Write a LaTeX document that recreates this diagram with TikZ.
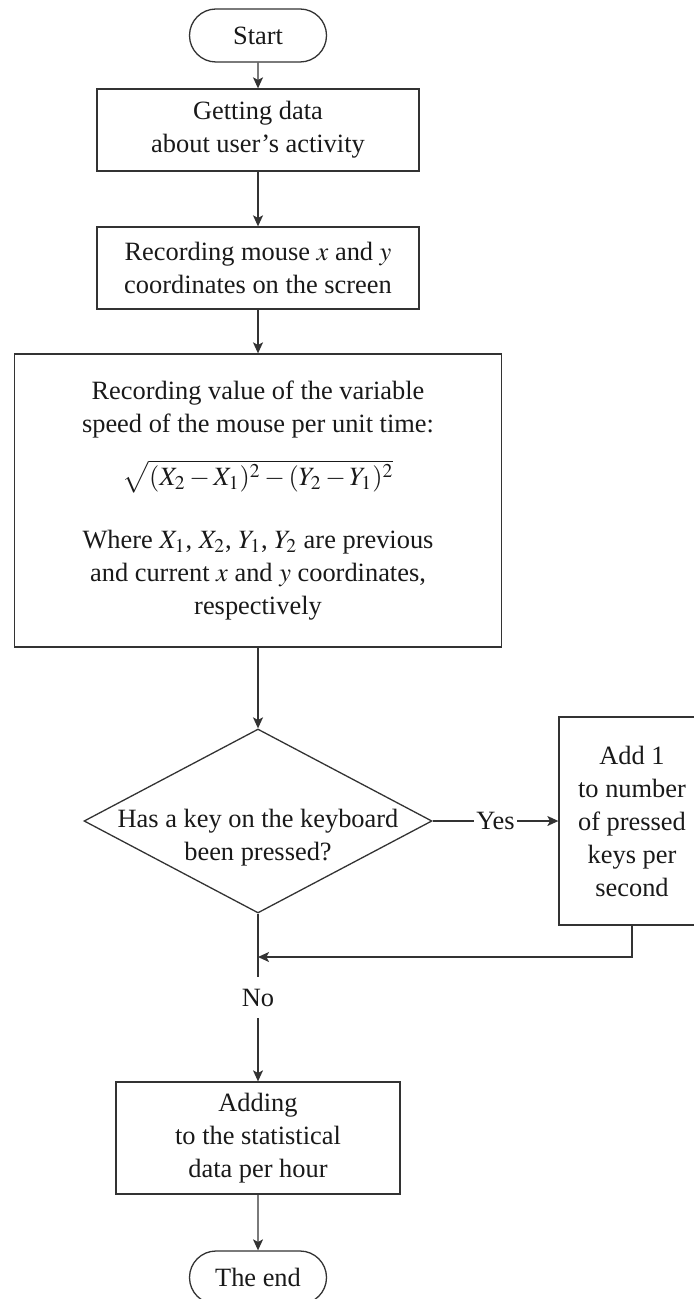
\documentclass[tikz,border=0pt]{standalone}
\usepackage{mathptmx}
\usepackage{fontspec}
\setmainfont{Liberation Serif}
\usetikzlibrary{shapes.misc,shapes.geometric,arrows.meta}

\tikzset{
  every node/.style={font=\fontsize{13.2}{16.5}\selectfont, text=black!90},
  block/.style={draw=black!80, line width=0.65pt, rectangle, align=center, inner sep=0pt},
  term/.style={draw=black!80, line width=0.65pt, rounded rectangle, minimum width=68.5pt, minimum height=26.5pt, inner sep=0pt},
  decision/.style={draw=black!80, line width=0.65pt, diamond, minimum width=174pt, minimum height=92pt, inner sep=0pt},
  arr/.style={draw=black!80, line width=0.65pt, -{Stealth[length=5.5pt,width=5pt,inset=1.3pt]}}
}

\begin{document}
\begin{tikzpicture}[x=0.5pt,y=-0.5pt]
\useasboundingbox (0,0) rectangle (693,1299);

% blocks, top to bottom (coordinates in px of the sheet)
\node[term] (start) at (258,35.5) {Start};
\node[block, minimum width=161pt, minimum height=41pt] (get) at (258,130)
  {Getting data\\about user's activity};
\node[block, minimum width=161pt, minimum height=41pt] (rec) at (258,268)
  {Recording mouse $x$ and $y$\\coordinates on the screen};
\node[block, minimum width=243.5pt, minimum height=146.5pt] (speed) at (258,500.5)
  {Recording value of the variable\\
   speed of the mouse per unit time:\\[10pt]
   $\medmuskip=2.5mu\sqrt{\mathstrut(X_2-X_1)^2-(Y_2-Y_1)^2}$\\[15pt]
   Where $X_1$, $X_2$, $Y_1$, $Y_2$ are previous\\
   and current $x$ and $y$ coordinates,\\
   respectively};
\node[decision] (key) at (258,821) {};
\node[align=center, inner sep=0pt] (keytext) at (258,837.5)
  {Has a key on the keyboard\\been pressed?};
\node[block, minimum width=73pt, minimum height=104pt] (add) at (632,821)
  {Add 1\\to number\\of pressed\\keys per\\second};
\coordinate (merge) at (258,957);
\node[block, minimum width=142pt, minimum height=56pt] (hour) at (258,1138)
  {Adding\\to the statistical\\data per hour};
\node[term] (end) at (258,1277.5) {The end};

% connectors
\draw[arr] (start) -- (get);
\draw[arr] (get) -- (rec);
\draw[arr] (rec) -- (speed);
\draw[arr] (speed) -- (key.north);
\draw[arr] (key.east) -- node[fill=white, inner xsep=1pt, inner ysep=1pt] {Yes} (add.west);
\draw[arr] (add.south) |- (merge);
\draw[arr] (key.south) -- node[fill=white, inner xsep=1pt, inner ysep=6pt] {No} (hour.north);
\draw[arr] (hour) -- (end);
\end{tikzpicture}
\end{document}
